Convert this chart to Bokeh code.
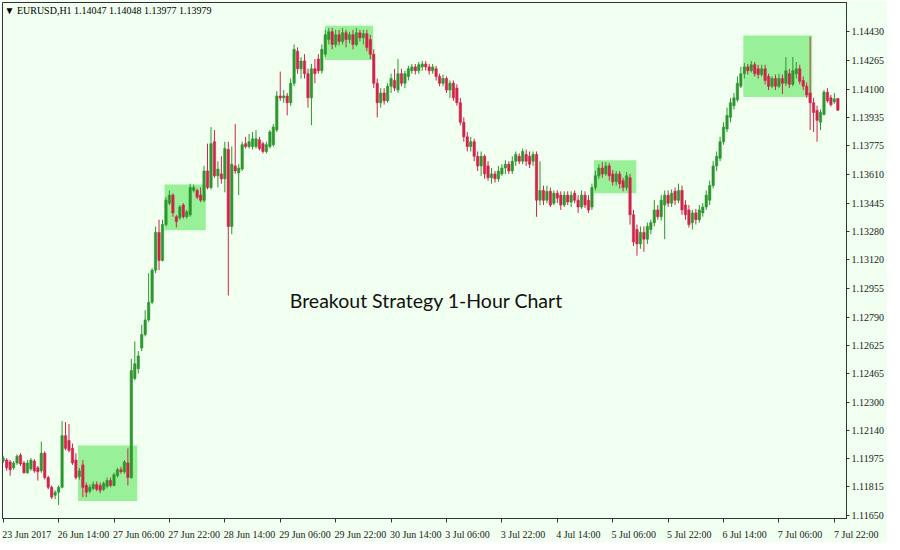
from bokeh.plotting import figure
from bokeh.models import (ColumnDataSource, FixedTicker, PrintfTickFormatter, Range1d, Label,
                          LinearAxis)
from bokeh.embed import file_html
from bokeh.resources import INLINE

symbol = "EURUSD,H1"
chart_title = "Breakout Strategy 1-Hour Chart"

opens = [
    1.11963, 1.11969, 1.11958, 1.11924, 1.11952, 1.11997, 1.11952, 1.11896, 1.11918, 1.11963,
    1.11924, 1.11907, 1.12008, 1.11868, 1.11812, 1.11767, 1.11784, 1.11812, 1.12109, 1.12081,
    1.12036, 1.11969, 1.11874, 1.11941, 1.11823, 1.11790, 1.11806, 1.11829, 1.11823, 1.11801,
    1.11818, 1.11851, 1.11823, 1.11879, 1.11913, 1.11902, 1.11952, 1.11868, 1.12438, 1.12494,
    1.12612, 1.12690, 1.12774, 1.12875, 1.13060, 1.13277, 1.13116, 1.13322, 1.13445, 1.13491,
    1.13367, 1.13361, 1.13434, 1.13367, 1.13378, 1.13518, 1.13518, 1.13491, 1.13462, 1.13630,
    1.13535, 1.13798, 1.13602, 1.13613, 1.13585, 1.13753, 1.13311, 1.13659, 1.13619, 1.13641,
    1.13787, 1.13770, 1.13770, 1.13770, 1.13809, 1.13787, 1.13742, 1.13770, 1.13781, 1.13865,
    1.14061, 1.14050, 1.14061, 1.14022, 1.14134, 1.14318, 1.14217, 1.14262, 1.14189, 1.14050,
    1.14217, 1.14273, 1.14206, 1.14301, 1.14385, 1.14430, 1.14357, 1.14413, 1.14374, 1.14424,
    1.14385, 1.14413, 1.14357, 1.14424, 1.14396, 1.14419, 1.14385, 1.14301, 1.14134, 1.14022,
    1.14078, 1.14033, 1.14117, 1.14150, 1.14095, 1.14189, 1.14134, 1.14173, 1.14206, 1.14228,
    1.14206, 1.14228, 1.14245, 1.14228, 1.14206, 1.14217, 1.14173, 1.14134, 1.14161, 1.14095,
    1.14134, 1.14106, 1.14022, 1.13910, 1.13826, 1.13770, 1.13798, 1.13714, 1.13659, 1.13714,
    1.13659, 1.13591, 1.13613, 1.13585, 1.13613, 1.13647, 1.13669, 1.13630, 1.13686, 1.13714,
    1.13686, 1.13725, 1.13714, 1.13686, 1.13725, 1.13462, 1.13518, 1.13462, 1.13513, 1.13445,
    1.13502, 1.13491, 1.13434, 1.13491, 1.13451, 1.13502, 1.13462, 1.13423, 1.13491, 1.13462,
    1.13423, 1.13535, 1.13602, 1.13647, 1.13613, 1.13659, 1.13613, 1.13568, 1.13613, 1.13574,
    1.13535, 1.13591, 1.13378, 1.13294, 1.13211, 1.13277, 1.13238, 1.13294, 1.13333, 1.13406,
    1.13367, 1.13434, 1.13491, 1.13445, 1.13513, 1.13462, 1.13518, 1.13434, 1.13406, 1.13333,
    1.13389, 1.13350, 1.13389, 1.13423, 1.13462, 1.13546, 1.13659, 1.13703, 1.13798, 1.13871,
    1.13938, 1.14005, 1.14039, 1.14117, 1.14189, 1.14228, 1.14206, 1.14240, 1.14217, 1.14184,
    1.14217, 1.14173, 1.14117, 1.14161, 1.14117, 1.14161, 1.14134, 1.14189, 1.14128, 1.14189,
    1.14217, 1.14150, 1.14117, 1.14078, 1.14022, 1.13977, 1.13910, 1.13955, 1.14083, 1.14050,
    1.14027, 1.14047,
]
highs = [
    1.11991, 1.11980, 1.11969, 1.11963, 1.12002, 1.12008, 1.11963, 1.11969, 1.11980, 1.11974,
    1.11935, 1.12075, 1.12019, 1.11879, 1.11823, 1.11795, 1.11823, 1.12193, 1.12187, 1.12176,
    1.12064, 1.12008, 1.11924, 1.11969, 1.11840, 1.11829, 1.11846, 1.11846, 1.11840, 1.11846,
    1.11868, 1.11868, 1.11896, 1.11924, 1.11930, 1.11969, 1.12036, 1.12550, 1.12651, 1.12595,
    1.12746, 1.12830, 1.13043, 1.13071, 1.13311, 1.13350, 1.13350, 1.13480, 1.13518, 1.13502,
    1.13378, 1.13434, 1.13445, 1.13406, 1.13557, 1.13552, 1.13529, 1.13535, 1.13659, 1.13787,
    1.13882, 1.13865, 1.13686, 1.13714, 1.13798, 1.13798, 1.13770, 1.13899, 1.13669, 1.13798,
    1.13826, 1.13843, 1.13854, 1.13865, 1.13826, 1.13798, 1.13798, 1.13865, 1.13899, 1.14089,
    1.14201, 1.14095, 1.14078, 1.14161, 1.14357, 1.14340, 1.14284, 1.14301, 1.14217, 1.14245,
    1.14273, 1.14301, 1.14357, 1.14441, 1.14452, 1.14452, 1.14441, 1.14441, 1.14452, 1.14441,
    1.14430, 1.14441, 1.14452, 1.14441, 1.14441, 1.14441, 1.14413, 1.14329, 1.14161, 1.14106,
    1.14106, 1.14134, 1.14189, 1.14217, 1.14273, 1.14217, 1.14206, 1.14234, 1.14245, 1.14245,
    1.14256, 1.14262, 1.14262, 1.14245, 1.14245, 1.14234, 1.14189, 1.14184, 1.14173, 1.14150,
    1.14150, 1.14128, 1.14050, 1.13938, 1.13854, 1.13826, 1.13815, 1.13742, 1.13742, 1.13725,
    1.13686, 1.13647, 1.13630, 1.13659, 1.13669, 1.13692, 1.13686, 1.13714, 1.13742, 1.13731,
    1.13759, 1.13753, 1.13742, 1.13742, 1.13742, 1.13686, 1.13546, 1.13546, 1.13535, 1.13518,
    1.13518, 1.13513, 1.13513, 1.13513, 1.13513, 1.13518, 1.13491, 1.13518, 1.13513, 1.13491,
    1.13557, 1.13630, 1.13669, 1.13681, 1.13681, 1.13675, 1.13636, 1.13630, 1.13630, 1.13591,
    1.13624, 1.13613, 1.13406, 1.13322, 1.13311, 1.13311, 1.13333, 1.13350, 1.13462, 1.13434,
    1.13491, 1.13518, 1.13518, 1.13524, 1.13535, 1.13557, 1.13546, 1.13462, 1.13434, 1.13406,
    1.13412, 1.13434, 1.13445, 1.13518, 1.13574, 1.13686, 1.13742, 1.13826, 1.13910, 1.13994,
    1.14050, 1.14078, 1.14173, 1.14228, 1.14251, 1.14245, 1.14262, 1.14256, 1.14240, 1.14240,
    1.14240, 1.14189, 1.14173, 1.14184, 1.14189, 1.14184, 1.14284, 1.14217, 1.14284, 1.14256,
    1.14240, 1.14173, 1.14139, 1.14402, 1.14050, 1.14005, 1.13983, 1.14095, 1.14106, 1.14067,
    1.14078, 1.14048,
]
lows = [
    1.11952, 1.11907, 1.11879, 1.11913, 1.11941, 1.11935, 1.11890, 1.11890, 1.11907, 1.11896,
    1.11851, 1.11896, 1.11857, 1.11801, 1.11745, 1.11745, 1.11711, 1.11806, 1.12025, 1.12014,
    1.11941, 1.11857, 1.11857, 1.11756, 1.11756, 1.11778, 1.11795, 1.11790, 1.11778, 1.11790,
    1.11806, 1.11812, 1.11818, 1.11868, 1.11890, 1.11890, 1.11823, 1.11862, 1.12427, 1.12466,
    1.12595, 1.12679, 1.12763, 1.12864, 1.13043, 1.13060, 1.13110, 1.13311, 1.13434, 1.13367,
    1.13305, 1.13350, 1.13356, 1.13356, 1.13367, 1.13507, 1.13468, 1.13451, 1.13451, 1.13524,
    1.13524, 1.13591, 1.13535, 1.13557, 1.13507, 1.12914, 1.13266, 1.13613, 1.13491, 1.13630,
    1.13759, 1.13759, 1.13753, 1.13759, 1.13748, 1.13731, 1.13731, 1.13759, 1.13770, 1.13854,
    1.14033, 1.14022, 1.13949, 1.14005, 1.14117, 1.14189, 1.14161, 1.14161, 1.13994, 1.13893,
    1.14134, 1.14189, 1.14189, 1.14284, 1.14357, 1.14329, 1.14340, 1.14352, 1.14357, 1.14340,
    1.14363, 1.14329, 1.14346, 1.14374, 1.14357, 1.14318, 1.14273, 1.14106, 1.13938, 1.13994,
    1.14011, 1.14022, 1.14078, 1.14089, 1.14078, 1.14117, 1.14106, 1.14150, 1.14189, 1.14184,
    1.14189, 1.14206, 1.14206, 1.14184, 1.14189, 1.14150, 1.14117, 1.14117, 1.14078, 1.14050,
    1.14033, 1.14005, 1.13893, 1.13798, 1.13742, 1.13742, 1.13686, 1.13630, 1.13602, 1.13585,
    1.13574, 1.13557, 1.13563, 1.13568, 1.13602, 1.13613, 1.13613, 1.13613, 1.13659, 1.13669,
    1.13669, 1.13659, 1.13647, 1.13659, 1.13367, 1.13434, 1.13434, 1.13445, 1.13423, 1.13434,
    1.13445, 1.13406, 1.13423, 1.13434, 1.13423, 1.13445, 1.13389, 1.13412, 1.13417, 1.13389,
    1.13406, 1.13518, 1.13585, 1.13591, 1.13602, 1.13574, 1.13546, 1.13546, 1.13529, 1.13513,
    1.13518, 1.13322, 1.13199, 1.13143, 1.13183, 1.13166, 1.13211, 1.13266, 1.13311, 1.13350,
    1.13345, 1.13238, 1.13423, 1.13423, 1.13434, 1.13445, 1.13378, 1.13350, 1.13305, 1.13294,
    1.13322, 1.13333, 1.13367, 1.13406, 1.13434, 1.13529, 1.13630, 1.13686, 1.13781, 1.13854,
    1.13910, 1.13983, 1.14027, 1.14106, 1.14161, 1.14184, 1.14195, 1.14173, 1.14161, 1.14173,
    1.14128, 1.14095, 1.14106, 1.14095, 1.14106, 1.14072, 1.14117, 1.14106, 1.14117, 1.14161,
    1.14128, 1.14095, 1.14050, 1.13865, 1.13854, 1.13798, 1.13865, 1.13949, 1.14022, 1.14000,
    1.14016, 1.13977,
]
closes = [
    1.11980, 1.11924, 1.11913, 1.11952, 1.11991, 1.11946, 1.11896, 1.11952, 1.11969, 1.11907,
    1.11902, 1.12008, 1.11868, 1.11812, 1.11756, 1.11784, 1.11812, 1.12109, 1.12036, 1.12025,
    1.11952, 1.11868, 1.11907, 1.11812, 1.11784, 1.11812, 1.11829, 1.11801, 1.11795, 1.11834,
    1.11851, 1.11823, 1.11885, 1.11913, 1.11902, 1.11958, 1.11868, 1.12483, 1.12522, 1.12567,
    1.12690, 1.12774, 1.12875, 1.13060, 1.13277, 1.13116, 1.13322, 1.13462, 1.13491, 1.13389,
    1.13339, 1.13423, 1.13367, 1.13395, 1.13535, 1.13535, 1.13480, 1.13462, 1.13630, 1.13535,
    1.13787, 1.13602, 1.13641, 1.13585, 1.13759, 1.13311, 1.13669, 1.13630, 1.13647, 1.13781,
    1.13770, 1.13798, 1.13815, 1.13815, 1.13759, 1.13742, 1.13781, 1.13854, 1.13882, 1.14061,
    1.14050, 1.14061, 1.14022, 1.14134, 1.14329, 1.14217, 1.14262, 1.14189, 1.14050, 1.14217,
    1.14189, 1.14206, 1.14329, 1.14413, 1.14430, 1.14357, 1.14413, 1.14374, 1.14424, 1.14385,
    1.14413, 1.14357, 1.14424, 1.14396, 1.14419, 1.14340, 1.14301, 1.14134, 1.14022, 1.14078,
    1.14033, 1.14117, 1.14161, 1.14106, 1.14189, 1.14134, 1.14189, 1.14217, 1.14228, 1.14206,
    1.14240, 1.14245, 1.14228, 1.14206, 1.14228, 1.14173, 1.14134, 1.14161, 1.14095, 1.14134,
    1.14050, 1.14022, 1.13910, 1.13826, 1.13770, 1.13798, 1.13714, 1.13659, 1.13714, 1.13613,
    1.13591, 1.13613, 1.13585, 1.13630, 1.13647, 1.13669, 1.13630, 1.13686, 1.13725, 1.13686,
    1.13742, 1.13686, 1.13669, 1.13725, 1.13462, 1.13518, 1.13462, 1.13513, 1.13434, 1.13502,
    1.13474, 1.13434, 1.13491, 1.13451, 1.13491, 1.13462, 1.13423, 1.13491, 1.13434, 1.13406,
    1.13535, 1.13602, 1.13647, 1.13613, 1.13659, 1.13602, 1.13568, 1.13613, 1.13557, 1.13535,
    1.13602, 1.13378, 1.13222, 1.13211, 1.13277, 1.13238, 1.13311, 1.13333, 1.13406, 1.13367,
    1.13462, 1.13491, 1.13445, 1.13502, 1.13462, 1.13518, 1.13406, 1.13378, 1.13322, 1.13389,
    1.13350, 1.13406, 1.13423, 1.13491, 1.13546, 1.13659, 1.13714, 1.13798, 1.13882, 1.13949,
    1.14022, 1.14050, 1.14134, 1.14189, 1.14228, 1.14206, 1.14240, 1.14189, 1.14184, 1.14217,
    1.14150, 1.14117, 1.14161, 1.14117, 1.14161, 1.14134, 1.14206, 1.14128, 1.14206, 1.14217,
    1.14145, 1.14117, 1.14067, 1.14022, 1.13966, 1.13921, 1.13966, 1.14083, 1.14033, 1.14011,
    1.14044, 1.13979,
]

# time-axis labels every 16 hourly bars
x_tick_bars = [0, 16, 32, 48, 64, 80, 96, 112, 128, 144, 160, 176, 192, 208, 224, 240]
x_tick_labels = ["23 Jun 2017", "26 Jun 14:00", "27 Jun 06:00", "27 Jun 22:00", "28 Jun 14:00",
                 "29 Jun 06:00", "29 Jun 22:00", "30 Jun 14:00", "3 Jul 06:00", "3 Jul 22:00",
                 "4 Jul 14:00", "5 Jul 06:00", "5 Jul 22:00", "6 Jul 14:00", "7 Jul 06:00",
                 "7 Jul 22:00"]
y_ticks = [1.11650, 1.11815, 1.11975, 1.12140, 1.12300, 1.12465, 1.12625, 1.12790, 1.12955,
           1.13120, 1.13280, 1.13445, 1.13610, 1.13775, 1.13935, 1.14100, 1.14265, 1.14430]

# breakout zones (bar index span, price span)
zone_left = [21.6, 46.6, 92.9, 170.6, 213.7]
zone_right = [38.7, 58.5, 106.8, 182.8, 233.6]
zone_top = [1.12052, 1.13552, 1.14464, 1.13692, 1.14408]
zone_bottom = [1.11734, 1.13289, 1.14268, 1.13502, 1.14055]

# position of the chart caption (bar index, price)
caption_x, caption_y = 122.2, 1.12886

BG = "#F0FFF0"
UP = "#2E962E"
DOWN = "#D2234C"
ZONE = "#98F098"
FG = "#1A1A1A"
FONT = "Liberation Sans Narrow"
FS = 10

FRAME_W, FRAME_H = 844, 516
x_start, x_end = -0.2, 243.5
y_start, y_end = 1.11633, 1.14598

n = len(closes)
idx = list(range(n))
colors = [UP if c >= o else DOWN for o, c in zip(opens, closes)]
tops = [max(o, c) for o, c in zip(opens, closes)]
bottoms = [min(o, c) for o, c in zip(opens, closes)]
src = ColumnDataSource(dict(x=idx, high=highs, low=lows, top=tops, bottom=bottoms, color=colors))

p = figure(frame_width=FRAME_W, frame_height=FRAME_H, output_backend="svg", toolbar_location=None,
           x_range=Range1d(x_start, x_end), y_range=Range1d(y_start, y_end),
           y_axis_location="right", min_border_left=2, min_border_top=2,
           min_border_right=38, min_border_bottom=16)
p.background_fill_color = BG
p.border_fill_color = BG
p.outline_line_color = "#333333"
p.grid.visible = False

p.quad(left=zone_left, right=zone_right, top=zone_top, bottom=zone_bottom,
       fill_color=ZONE, line_color=None)

p.segment(x0="x", y0="low", x1="x", y1="high", color="color", line_width=1, source=src)
p.vbar(x="x", width=0.68, top="top", bottom="bottom", fill_color="color",
       line_color="color", line_width=0.6, source=src)

# bottom axis 1: tick marks only (labels not painted)
xa = p.xaxis[0]
xa.ticker = FixedTicker(ticks=x_tick_bars)
xa.major_label_text_font_size = "1px"
xa.major_label_text_color = None
xa.major_label_standoff = 0
xa.major_tick_in = 0
xa.major_tick_out = 4
xa.minor_tick_line_color = None
xa.axis_line_color = "#333333"
xa.major_tick_line_color = "#333333"

# bottom axis 2: labels starting at each tick (MT4 style, left aligned)
CHAR_W = {d: 0.456 for d in "0123456789"}
CHAR_W.update({" ": 0.228, ":": 0.228, "J": 0.41, "u": 0.456, "n": 0.456, "l": 0.182})
NBSP_W = 0.228 * FS
px_per_bar = FRAME_W / (x_end - x_start)
label_pos, label_txt = [], []
for b, t in zip(x_tick_bars, x_tick_labels):
    w = sum(CHAR_W.get(ch, 0.5) for ch in t) * FS
    c = b + (w / 2 + 1) / px_per_bar
    if c > x_end - 0.05:
        c = x_end - 0.05
        pad = 2 * ((b - c) * px_per_bar + 1 + w / 2)
        t = "\u00a0" * max(0, int(round(pad / NBSP_W))) + t
    label_pos.append(c)
    label_txt.append(t)
xb = LinearAxis(ticker=FixedTicker(ticks=label_pos),
                major_label_overrides={pos: t for pos, t in zip(label_pos, label_txt)},
                axis_line_color=None, major_tick_line_color=None, minor_tick_line_color=None,
                major_label_standoff=0, major_label_text_font=FONT,
                major_label_text_font_size="%dpx" % FS, major_label_text_color=FG)
p.add_layout(xb, "below")

ya = p.yaxis[0]
ya.ticker = FixedTicker(ticks=y_ticks)
ya.formatter = PrintfTickFormatter(format="%.5f")
ya.major_tick_in = 0
ya.major_tick_out = 3
ya.major_label_standoff = 2
ya.minor_tick_line_color = None
ya.axis_line_color = "#333333"
ya.major_tick_line_color = "#333333"
ya.major_label_text_font = FONT
ya.major_label_text_font_size = "%dpx" % FS
ya.major_label_text_color = FG

# current price marker: a zero-width axis pinned at the frame's right edge,
# its single tick drawn as a thick black bar with the price in white on top
marker = LinearAxis(fixed_location=x_end, ticker=FixedTicker(ticks=[closes[-1]]),
                    formatter=PrintfTickFormatter(format="%.5f"),
                    axis_line_color=None, minor_tick_line_color=None,
                    major_tick_in=0, major_tick_out=37, major_tick_line_width=12,
                    major_tick_line_color="#000000", major_tick_line_cap="butt",
                    major_label_standoff=-34, major_label_text_font=FONT,
                    major_label_text_font_size="%dpx" % FS, major_label_text_color="#FFFFFF")
p.add_layout(marker, "right")

info = "\u25bc %s  %.5f %.5f %.5f %.5f" % (symbol, opens[-1], highs[-1], lows[-1], closes[-1])
p.add_layout(Label(x=x_start, y=y_end, x_offset=2, y_offset=-8, text=info,
                   text_font=FONT, text_font_size="%dpx" % FS, text_color="#000000",
                   text_baseline="middle", text_align="left"))

p.add_layout(Label(x=caption_x, y=caption_y, text=chart_title,
                   text_font="Lato", text_font_size="19.5px", text_color="#111111",
                   text_align="center", text_baseline="middle"))

open("out.html", "w").write(file_html(p, INLINE))
